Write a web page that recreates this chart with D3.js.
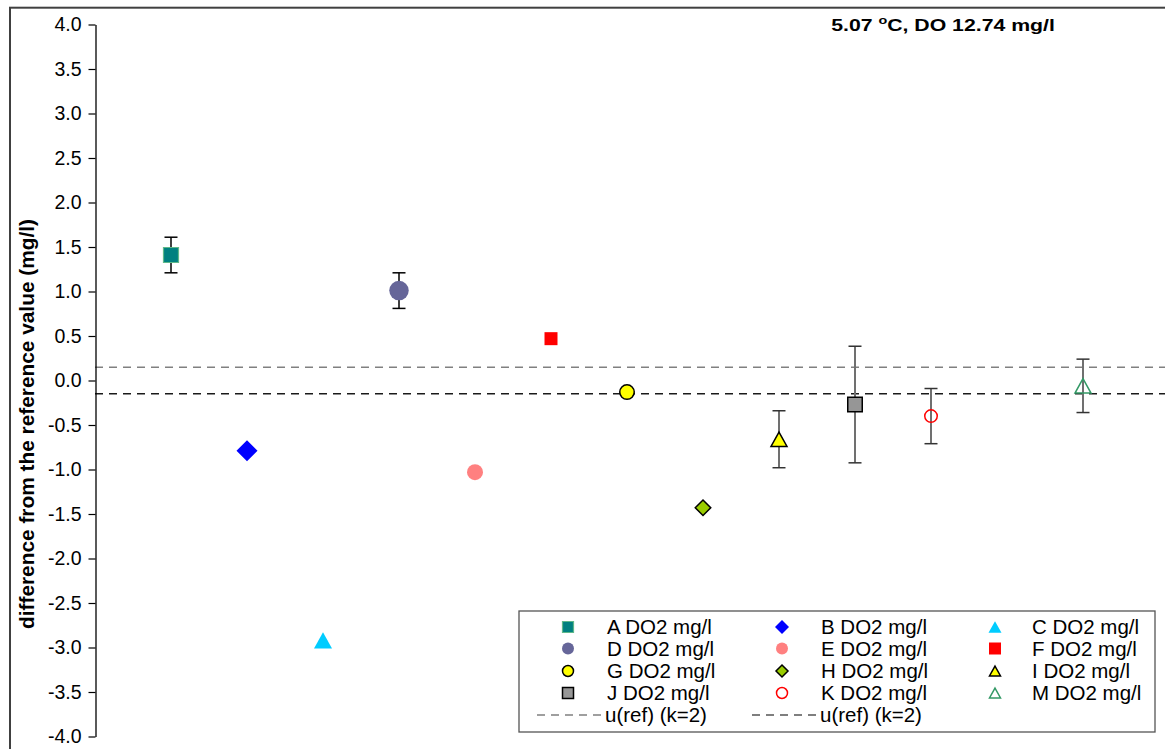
<!DOCTYPE html>
<html><head><meta charset="utf-8">
<script src="https://cdn.jsdelivr.net/npm/d3@7"></script>
<style>
body{margin:0;background:#fff}
svg{display:block}
text{font-family:Arial,"Liberation Sans",sans-serif;fill:#000}
</style>
</head><body>
<svg id="c" width="1165" height="749"></svg>
<script>
// ---------------- data ----------------
const labs      = ["A","B","C","D","E","F","G","H","I","J","K","M"];
const positions = [1,2,3,4,5,6,7,8,9,10,11,13];
const values    = [1.41,-0.79,-2.92,1.01,-1.03,0.47,-0.13,-1.43,-0.66,-0.27,-0.40,-0.06];
const uncert    = [0.20,null,null,0.20,null,null,null,null,0.32,0.655,0.31,0.30];
const refU      = [0.15,-0.15];
const yTicks    = [4,3.5,3,2.5,2,1.5,1,0.5,0,-0.5,-1,-1.5,-2,-2.5,-3,-3.5,-4];
const yTickLabels = ["4.0","3.5","3.0","2.5","2.0","1.5","1.0","0.5","0.0","-0.5","-1.0","-1.5","-2.0","-2.5","-3.0","-3.5","-4.0"];
const seriesSuffix = " DO2 mg/l";
const refLabel = "u(ref) (k=2)";
const titleParts = ["5.07 ","o","C, DO 12.74 mg/l"];
const yTitle = "difference from the reference value (mg/l)";

// ---------------- styles ----------------
const styles = {
  A:{shape:"square",  fill:"#008080", stroke:"#5fb88a", sw:1.2, size:15,  lsize:11},
  B:{shape:"diamond", fill:"#0000ff", stroke:"none",    sw:0,   size:21,  lsize:14},
  C:{shape:"triangle",fill:"#00ccff", stroke:"none",    sw:0,   size:18,  lsize:13},
  D:{shape:"circle",  fill:"#666699", stroke:"none",    sw:0,   size:19.5,lsize:12},
  E:{shape:"circle",  fill:"#ff8080", stroke:"none",    sw:0,   size:16,  lsize:12},
  F:{shape:"square",  fill:"#ff0000", stroke:"none",    sw:0,   size:13,  lsize:12},
  G:{shape:"circle",  fill:"#ffff00", stroke:"#000",    sw:1.5, size:14.5,lsize:11},
  H:{shape:"diamond", fill:"#99cc00", stroke:"#000",    sw:1.5, size:15.5,lsize:12},
  I:{shape:"triangle",fill:"#ffff00", stroke:"#000",    sw:1.5, size:16,  lsize:11},
  J:{shape:"square",  fill:"#969696", stroke:"#000",    sw:1.5, size:14.5,lsize:11},
  K:{shape:"circle",  fill:"none",    stroke:"#ff0000", sw:1.5, size:12.5,lsize:11},
  M:{shape:"triangle",fill:"none",    stroke:"#339966", sw:1.5, size:16,  lsize:11}
};
const errStyle = {A:"black",D:"black",I:"gray",J:"gray",K:"gray",M:"gray"};

function shapePath(shape, s){
  const h = s/2;
  if(shape==="square") return `M${-h},${-h}h${s}v${s}h${-s}Z`;
  if(shape==="diamond") return `M0,${-h}L${h},0L0,${h}L${-h},0Z`;
  if(shape==="triangle"){const th=s*0.9/2; return `M0,${-th}L${h},${th}L${-h},${th}Z`;}
  const p = d3.path(); p.arc(0,0,h,0,Math.PI*2); return p.toString();
}

const svg = d3.select("#c");
const x = d3.scaleLinear().domain([0,14.1]).range([95,95+14.1*76]);
const y = d3.scaleLinear().domain([-4,4]).range([736.5,24.5]);

// outer frame
svg.append("rect").attr("x",10).attr("y",7.7).attr("width",1200).attr("height",800)
  .attr("fill","none").attr("stroke","#404040").attr("stroke-width",2);

// reference dashed lines
svg.selectAll("line.ref").data(refU).join("line").attr("class","ref")
  .attr("x1",x(0)).attr("x2",1165).attr("y1",d=>y(d)).attr("y2",d=>y(d))
  .attr("stroke",(d,i)=>i===0?"#808080":"#1a1a1a").attr("stroke-width",1.5)
  .attr("stroke-dasharray","8,6");

// axis
const ax = svg.append("g").attr("transform",`translate(${x(0)+0.5},0)`)
  .call(d3.axisLeft(y).tickValues(yTicks).tickFormat((d,i)=>yTickLabels[i]).tickSize(7).tickSizeOuter(0).tickPadding(7));
ax.select(".domain").attr("stroke","#000").attr("stroke-width",1.3);
ax.selectAll(".tick line").attr("stroke","#000").attr("stroke-width",1.2);
ax.selectAll(".tick text").attr("font-size",19.5).attr("font-family",'Arial,"Liberation Sans",sans-serif').attr("fill","#000");

// y title
svg.append("text").attr("transform","translate(34,424) rotate(-90)")
  .attr("text-anchor","middle").attr("font-size",19.5).attr("font-weight","bold")
  .attr("textLength",410).attr("lengthAdjust","spacingAndGlyphs").text(yTitle);

// chart title
const tg = svg.append("g").attr("transform","translate(943,31) scale(1.25,1)");
const tt = tg.append("text").attr("text-anchor","middle").attr("font-size",17).attr("font-weight","bold");
tt.append("tspan").text(titleParts[0]);
tt.append("tspan").attr("font-size",11.5).attr("dy",-7).text(titleParts[1]);
tt.append("tspan").attr("dy",7).text(titleParts[2]);

// data
const pts = labs.map((l,i)=>({l,p:positions[i],v:values[i],u:uncert[i]}));

// error bars
const eb = svg.append("g");
pts.filter(d=>d.u!=null).forEach(d=>{
  const g = eb.append("g");
  const dark = errStyle[d.l]==="black";
  g.append("line").attr("x1",x(d.p)).attr("x2",x(d.p)).attr("y1",y(d.v+d.u)).attr("y2",y(d.v-d.u))
    .attr("stroke",dark?"#000":"#707070").attr("stroke-width",dark?1.5:2);
  [d.v+d.u,d.v-d.u].forEach(e=>{
    g.append("line").attr("x1",x(d.p)-6.5).attr("x2",x(d.p)+6.5).attr("y1",y(e)).attr("y2",y(e))
      .attr("stroke",dark?"#000":"#333").attr("stroke-width",1.5);
  });
});

// markers
svg.append("g").selectAll("path").data(pts).join("path")
  .attr("transform",d=>`translate(${x(d.p)},${y(d.v)})`)
  .attr("d",d=>shapePath(styles[d.l].shape,styles[d.l].size))
  .attr("fill",d=>styles[d.l].fill).attr("stroke",d=>styles[d.l].stroke)
  .attr("stroke-width",d=>styles[d.l].sw);

// legend
const lg = svg.append("g");
lg.append("rect").attr("x",519).attr("y",611).attr("width",636).attr("height",121)
  .attr("fill","#fff").attr("stroke","#555").attr("stroke-width",1.3);
const colMark=[568,782,995], colText=[607,821,1032], rowY=[627,648.5,671,693,715];
labs.forEach((l,i)=>{
  const c=i%3, r=Math.floor(i/3), s=styles[l];
  lg.append("path").attr("transform",`translate(${colMark[c]},${rowY[r]})`)
    .attr("d",shapePath(s.shape,s.lsize)).attr("fill",s.fill).attr("stroke",s.stroke).attr("stroke-width",s.sw);
  lg.append("text").attr("x",colText[c]).attr("y",rowY[r]).attr("dy","0.36em").attr("font-size",20.5).text(l+seriesSuffix);
});
refU.forEach((d,i)=>{
  const x0=[537,752][i];
  lg.append("line").attr("x1",x0).attr("x2",x0+65).attr("y1",rowY[4]).attr("y2",rowY[4])
    .attr("stroke",i===0?"#808080":"#555").attr("stroke-width",1.5).attr("stroke-dasharray","8,6");
  lg.append("text").attr("x",[605,820][i]).attr("y",rowY[4]).attr("dy","0.36em").attr("font-size",20.5).text(refLabel);
});
</script>
</body></html>
